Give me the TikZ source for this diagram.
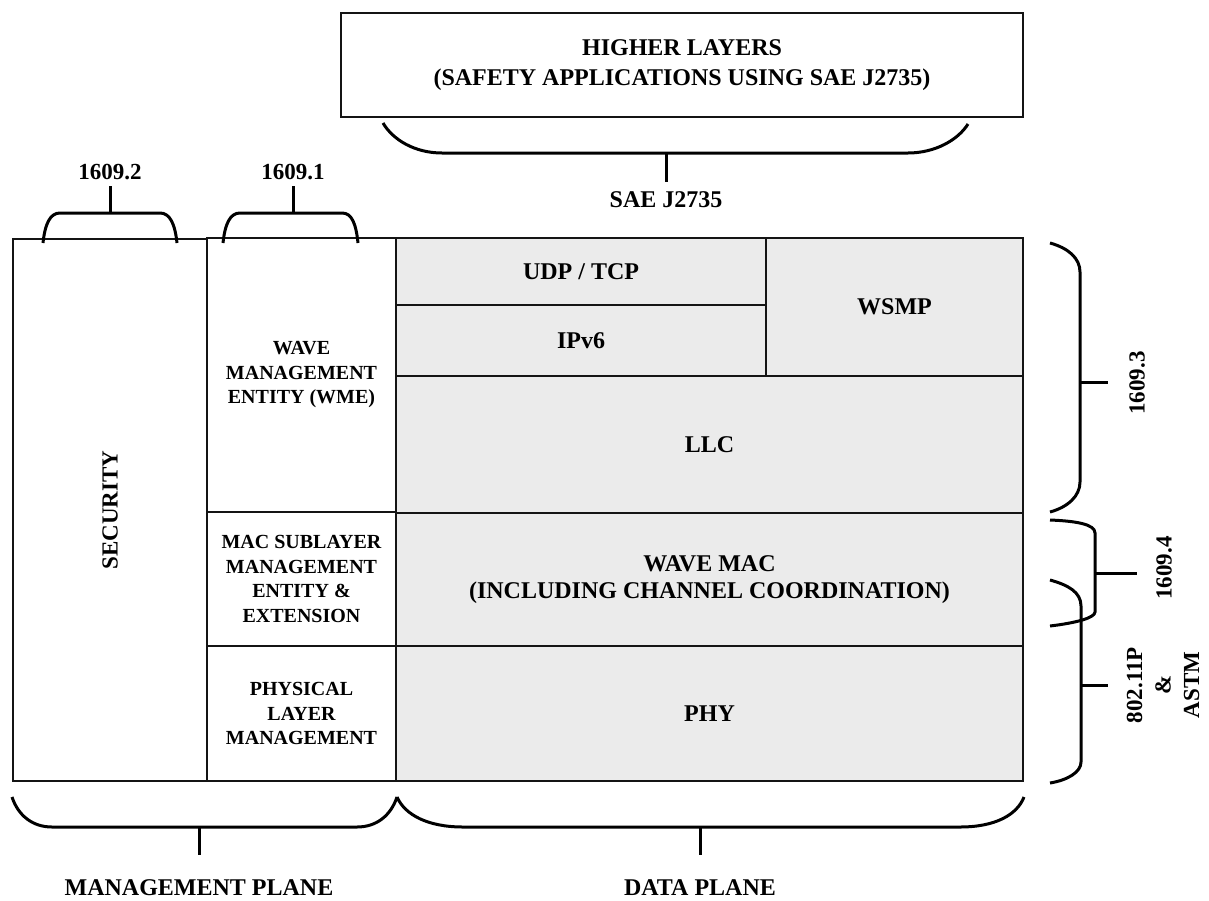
\documentclass[tikz,border=0pt]{standalone}
\usepackage{fontspec}
\setmainfont{Liberation Serif}
\usepackage{tikz}
\usetikzlibrary{positioning,calc}
\definecolor{dataGray}{RGB}{235,235,235}
\definecolor{lineBlack}{RGB}{20,20,20}
\tikzset{
    layerBase/.style={
        rectangle,
        draw=lineBlack,
        inner sep=0pt,
        outer sep=0pt,
        align=center,
        font=\bfseries\fontsize{24}{27}\selectfont
    },
    % box variants
    mgmtBox/.style={layerBase, fill=white, line width=2pt, font=\bfseries\fontsize{20}{24.5}\selectfont},
    dataBox/.style={layerBase, fill=dataGray, line width=1.3pt},
    topBox/.style={layerBase, fill=white, line width=1.5pt, font=\bfseries\fontsize{24}{30}\selectfont},
    % braces and labels
    bracket/.style={draw=black, line width=3pt},
    stdLabel/.style={font=\bfseries\fontsize{23}{26}\selectfont, align=center, inner sep=0pt}
}
\begin{document}
\begin{tikzpicture}[x=1pt, y=-1pt]
\useasboundingbox (0,0) rectangle (1209,900);

% higher layers
\node[topBox, minimum width=682pt, minimum height=104pt] (higher) at (682,65)
    {HIGHER LAYERS\\(SAFETY APPLICATIONS USING SAE J2735)};

% management plane
\node[mgmtBox, rotate=90, minimum width=542pt, minimum height=194pt, font=\bfseries\fontsize{23}{26}\selectfont] (security) at (110,510) {SECURITY};
\node[mgmtBox, minimum width=189pt, minimum height=274pt] (wme) at (301.5,375) {WAVE\\MANAGEMENT\\ENTITY (WME)};
\node[mgmtBox, minimum width=189pt, minimum height=134pt] (mlme) at (301.5,579) {MAC SUBLAYER\\MANAGEMENT\\ENTITY \&\\EXTENSION};
\node[mgmtBox, minimum width=189pt, minimum height=135pt] (plme) at (301.5,713.5) {PHYSICAL\\LAYER\\MANAGEMENT};

% data plane
\node[dataBox, minimum width=370pt, minimum height=67pt] (udp) at (581,271.5) {UDP / TCP};
\node[dataBox, minimum width=370pt, minimum height=71pt] (ipv6) at (581,340.5) {IPv6};
\node[dataBox, minimum width=257pt, minimum height=138pt] (wsmp) at (894.5,307) {WSMP};
\node[dataBox, minimum width=627pt, minimum height=137pt] (llc) at (709.5,444.5) {LLC};
\node[dataBox, minimum width=627pt, minimum height=133pt] (wavemac) at (709.5,579.5) {WAVE MAC\\(INCLUDING CHANNEL COORDINATION)};
\node[dataBox, minimum width=627pt, minimum height=135pt] (phy) at (709.5,713.5) {PHY};

% top braces
\draw[bracket] (383,123) .. controls (393,140) and (415,153) .. (442,153) -- (908,153) .. controls (935,153) and (958,140) .. (968,124);
\coordinate (sae) at (666,182);
\draw[bracket] (666,153) -- (sae);
\node[stdLabel, font=\bfseries\fontsize{24}{27}\selectfont] (saeLabel) at (666,200) {SAE J2735};

\draw[bracket] (43,243) .. controls (45,224) and (50,213) .. (60,213) -- (160,213) .. controls (170,213) and (175,224) .. (177,243);
\coordinate (p2) at (110,186);
\draw[bracket] (110,213) -- (p2);
\node[stdLabel] (p2Label) at (110,172) {1609.2};

\draw[bracket] (223,243) .. controls (225,224) and (230,213) .. (240,213) -- (342,213) .. controls (352,213) and (356,224) .. (358,243);
\coordinate (p1) at (293,186);
\draw[bracket] (293,213) -- (p1);
\node[stdLabel] (p1Label) at (293,172) {1609.1};

% right braces
\draw[bracket] (1050,243) .. controls (1068,248) and (1080,258) .. (1080,272) -- (1080,482) .. controls (1080,496) and (1068,507) .. (1050,512);
\coordinate (p3) at (1108,382);
\draw[bracket] (1080,382) -- (p3);
\node[stdLabel, rotate=90] (p3Label) at (1137,383) {1609.3};

\draw[bracket] (1050,520) .. controls (1075,521) and (1095,524) .. (1095,533) -- (1095,612) .. controls (1095,618) and (1075,623) .. (1050,626);
\coordinate (p4) at (1137,573);
\draw[bracket] (1095,573) -- (p4);
\node[stdLabel, rotate=90] (p4Label) at (1164,568) {1609.4};

\draw[bracket] (1050,580) .. controls (1068,585) and (1081,592) .. (1081,606) -- (1081,762) .. controls (1081,772) and (1068,780) .. (1050,783);
\coordinate (phyStd) at (1108,685);
\draw[bracket] (1081,685) -- (phyStd);
\node[stdLabel, rotate=90, font=\bfseries\fontsize{23}{28.5}\selectfont] (phyStdLabel) at (1163,685) {802.11P\\\&\\ASTM};

% bottom braces
\draw[bracket] (12,797) .. controls (18,815) and (32,827) .. (52,827) -- (357,827) .. controls (377,827) and (391,815) .. (397,797);
\coordinate (mgmt) at (199,855);
\draw[bracket] (199,827) -- (mgmt);
\node[stdLabel, font=\bfseries\fontsize{24}{27}\selectfont] (mgmtLabel) at (199,888) {MANAGEMENT PLANE};

\draw[bracket] (397,797) .. controls (405,815) and (428,827) .. (463,827) -- (960,827) .. controls (995,827) and (1017,815) .. (1024,797);
\coordinate (data) at (700,855);
\draw[bracket] (700,827) -- (data);
\node[stdLabel, font=\bfseries\fontsize{24}{27}\selectfont] (dataLabel) at (700,888) {DATA PLANE};
\end{tikzpicture}
\end{document}
